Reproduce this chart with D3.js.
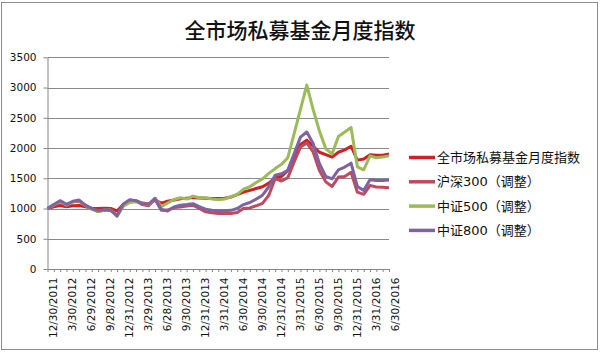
<!DOCTYPE html>
<html>
<head>
<meta charset="utf-8">
<script src="https://cdn.jsdelivr.net/npm/d3@7"></script>
<style>
  body { margin: 0; background: #fff; }
  svg { display: block; }
</style>
</head>
<body>
<div id="chart"></div>
<script>
// quarterly labels shown under the axis (one every 3 months)
const tickLabels = ["12/30/2011", "3/30/2012", "6/29/2012", "9/28/2012", "12/31/2012",
  "3/29/2013", "6/28/2013", "9/30/2013", "12/31/2013", "3/31/2014", "6/30/2014",
  "9/30/2014", "12/31/2014", "3/31/2015", "6/30/2015", "9/30/2015", "12/31/2015",
  "3/31/2016", "6/30/2016"];

const seriesNames = ["全市场私募基金月度指数", "沪深300（调整）", "中证500（调整）", "中证800（调整）"];

// monthly values, 12/2011 .. 6/2016 (55 months)
const privateFund = [1000, 1030, 1050, 1030, 1045, 1050, 1030, 1005, 1000, 1005,
  1000, 960, 1070, 1120, 1125, 1090, 1075, 1140, 1090, 1120,
  1140, 1160, 1170, 1180, 1175, 1170, 1165, 1165, 1170, 1190,
  1230, 1270, 1300, 1330, 1360, 1420, 1510, 1530, 1630, 1870,
  2060, 2130, 2030, 1930, 1890, 1850, 1930, 1970, 2030, 1800,
  1820, 1890, 1880, 1880, 1900];

const hs300 = [1000, 1050, 1115, 1045, 1110, 1120, 1050, 995, 950, 975,
  965, 890, 1070, 1135, 1125, 1065, 1045, 1150, 970, 975,
  1015, 1025, 1040, 1055, 1000, 945, 930, 917, 917, 917,
  933, 1000, 1010, 1045, 1085, 1220, 1495, 1455, 1510, 1770,
  2015, 2085, 1935, 1630, 1440, 1365, 1520, 1530, 1600, 1270,
  1235, 1380, 1355, 1350, 1345];

const zz500 = [1000, 1060, 1120, 1060, 1110, 1130, 1050, 990, 950, 970,
  975, 870, 1040, 1100, 1110, 1080, 1065, 1170, 1030, 1090,
  1150, 1178, 1156, 1205, 1178, 1178, 1156, 1145, 1156, 1195,
  1235, 1320, 1360, 1430, 1490, 1580, 1660, 1730, 1840, 2240,
  2640, 3040, 2640, 2280, 1990, 1900, 2190, 2265, 2340, 1690,
  1640, 1870, 1840, 1850, 1870];

const zz800 = [1000, 1065, 1130, 1070, 1120, 1140, 1055, 1000, 965, 978,
  972, 880, 1075, 1145, 1130, 1075, 1070, 1170, 985, 960,
  1025, 1055, 1065, 1080, 1030, 990, 972, 962, 962, 970,
  1000, 1065, 1100, 1155, 1220, 1360, 1550, 1575, 1630, 1905,
  2180, 2265, 2075, 1740, 1530, 1490, 1640, 1685, 1750, 1365,
  1300, 1475, 1465, 1465, 1470];

const yTicks = [0, 500, 1000, 1500, 2000, 2500, 3000, 3500];

var width = 601, height = 353;
var plot = {left: 47.5, right: 389, top: 57.3, bottom: 269};
var colors = ["#cf2026", "#bd4b5e", "#9bbb59", "#7f63a1"];
var allSeries = [privateFund, hs300, zz500, zz800];

var svg = d3.select("#chart")
    .append("svg")
    .attr("width", width)
    .attr("height", height);

// outer frame
svg.append("rect")
    .attr("x", 1.5).attr("y", 2.5)
    .attr("width", 596).attr("height", 347)
    .attr("fill", "#fff")
    .attr("stroke", "#8c8c8c");

svg.append("text")
    .attr("x", 300).attr("y", 38)
    .attr("text-anchor", "middle")
    .style("font-family", "'Noto Sans CJK SC', sans-serif")
    .style("font-size", "21px")
    .style("font-weight", 500)
    .style("fill", "#111")
    .text("全市场私募基金月度指数");

var x = d3.scaleLinear().domain([0, privateFund.length - 1]).range([plot.left, plot.right]);
var y = d3.scaleLinear().domain([0, 3500]).range([plot.bottom, plot.top]);

// gridlines
svg.append("g")
    .selectAll("line")
    .data(yTicks.slice(1))
    .enter()
    .append("line")
    .attr("x1", plot.left).attr("x2", plot.right)
    .attr("y1", d => Math.round(y(d)) + 0.5)
    .attr("y2", d => Math.round(y(d)) + 0.5)
    .style("stroke", "#8a8a8a");

var yAxis = svg.append("g")
    .attr("transform", "translate(" + plot.left + ",0)")
    .call(d3.axisLeft(y).tickValues(yTicks).tickFormat(d3.format("d"))
        .tickSize(4).tickPadding(7).tickSizeOuter(0));

var xAxis = svg.append("g")
    .attr("transform", "translate(0," + plot.bottom + ")")
    .call(d3.axisBottom(x)
        .tickValues(d3.range(privateFund.length))
        .tickSize(3)
        .tickSizeOuter(0)
        .tickFormat(i => i % 3 === 0 ? tickLabels[i / 3] : ""));

xAxis.selectAll("text")
    .attr("transform", "rotate(-90)")
    .attr("x", -8.5)
    .attr("y", 5.4)
    .attr("dy", "0.35em")
    .attr("text-anchor", "end");

[yAxis, xAxis].forEach(function(ax) {
    ax.selectAll("path, line").style("stroke", "#868686");
    ax.selectAll("text")
        .style("font-family", "'DejaVu Sans', sans-serif")
        .style("font-size", "10.5px")
        .style("fill", "#111");
});

var line = d3.line()
    .x((d, i) => x(i))
    .y(d => y(d));

svg.append("g")
    .selectAll("path")
    .data(allSeries)
    .enter()
    .append("path")
    .attr("d", line)
    .attr("fill", "none")
    .attr("stroke", (d, i) => colors[i])
    .attr("stroke-width", 3)
    .attr("stroke-linejoin", "round");

// legend
var legend = svg.append("g")
    .selectAll("g")
    .data(seriesNames)
    .enter()
    .append("g")
    .attr("transform", (d, i) => "translate(409," + (157.5 + i * 24.3) + ")");

legend.append("line")
    .attr("x1", 0).attr("x2", 26)
    .attr("stroke", (d, i) => colors[i])
    .attr("stroke-width", 3.5);

legend.append("text")
    .attr("x", 28)
    .attr("dy", "0.36em")
    .style("font-family", "'DejaVu Sans', 'Noto Sans CJK SC', sans-serif")
    .style("font-size", "13px")
    .style("fill", "#111")
    .text(d => d);
</script>
</body>
</html>
